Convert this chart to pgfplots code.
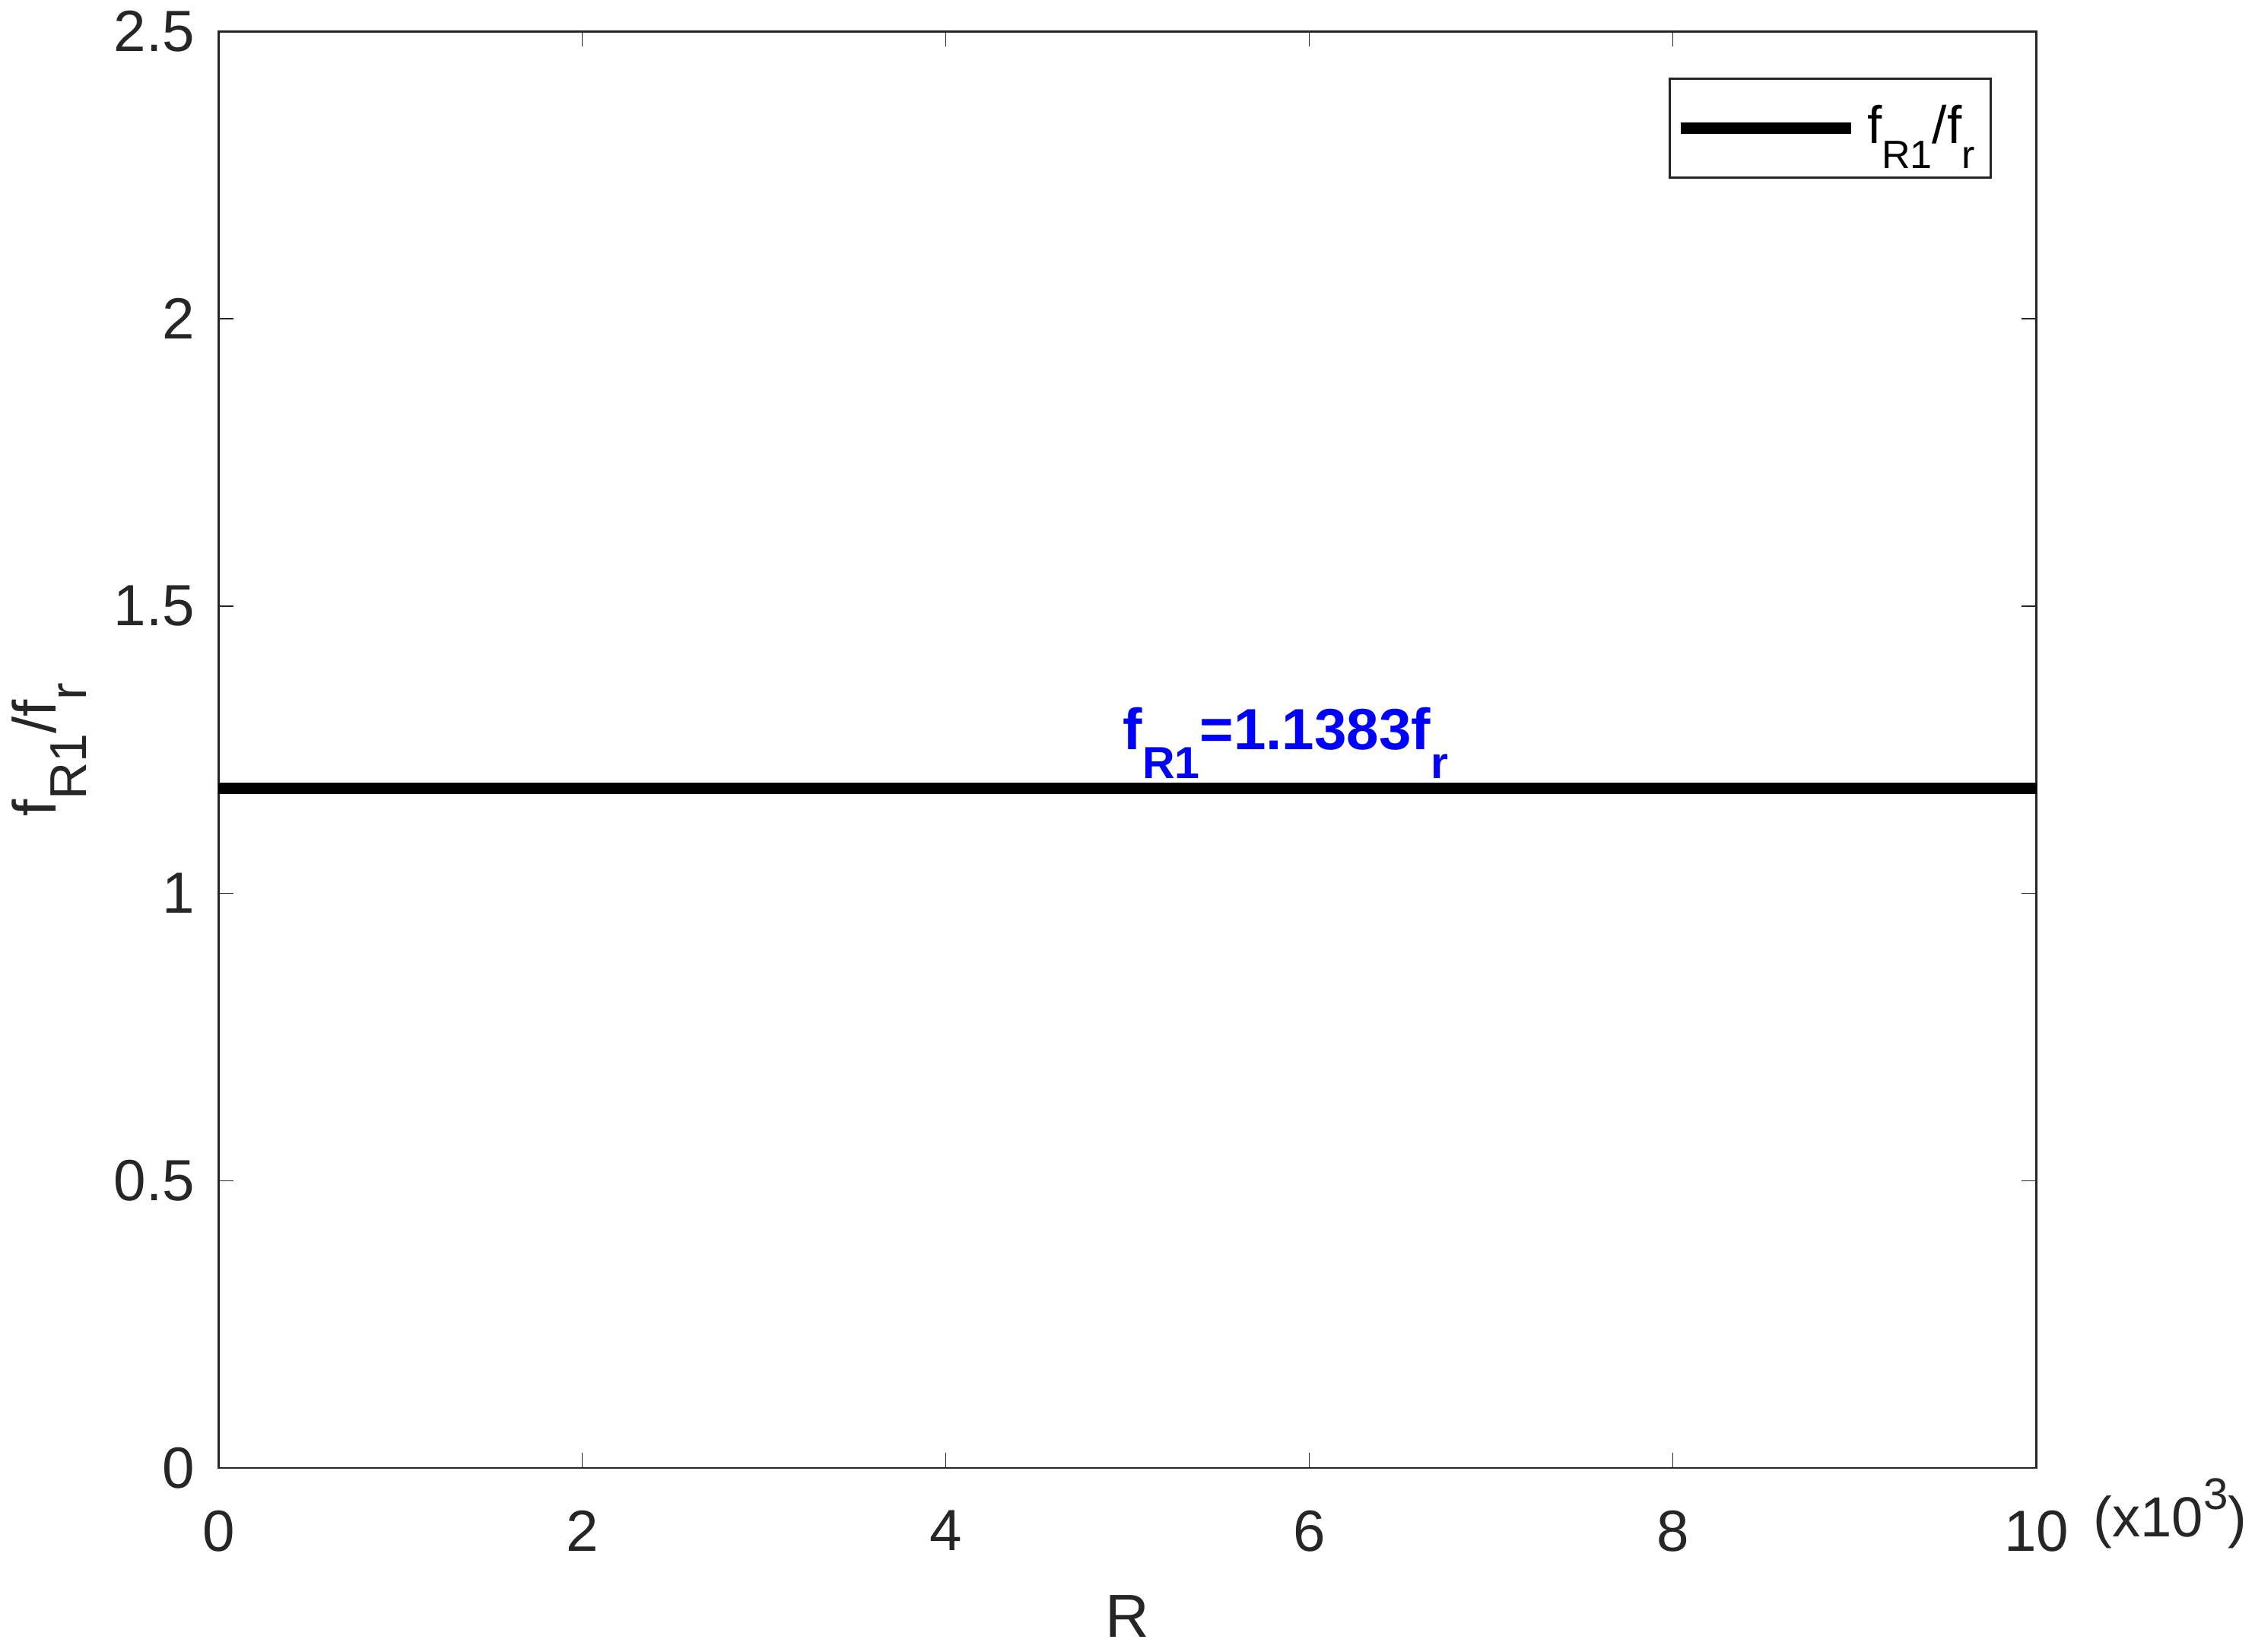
\documentclass[border=0pt]{standalone}
\usepackage{fontspec}
\setmainfont{Liberation Sans}
\usepackage{pgfplots}
\pgfplotsset{compat=1.18}
% MATLAB-style subscript / superscript: size, shift, text
\newcommand\msub[3]{\raisebox{-#2}{\fontsize{#1}{#1}\selectfont #3}}
\newcommand\msup[3]{\raisebox{#2}{\fontsize{#1}{#1}\selectfont #3}}
\begin{document}
\begin{tikzpicture}
\begin{axis}[
    width=12.1cm, height=9.56cm,
    scale only axis,
    xmin=0, xmax=10000,
    ymin=0, ymax=2.5,
    xtick={0,2000,4000,6000,8000,10000},
    xticklabels={0,2,4,6,8,10},
    ytick={0,0.5,1,1.5,2,2.5},
    yticklabels={0,0.5,1,1.5,2,2.5},
    scaled x ticks=false,
    tick align=inside,
    major tick length=0.1cm,
    axis line style={black!85},
    tick style={black!85},
    ticklabel style={font=\fontsize{11}{13}\selectfont, text=black!85, inner sep=0pt},
    xticklabel style={yshift=-0.278cm},
    yticklabel style={xshift=-0.153cm},
    xlabel={R},
    ylabel={f\msub{9.8pt}{5.8pt}{R1}/f\msub{9.8pt}{5.8pt}{r}},
    xlabel style={font=\fontsize{11.5}{13}\selectfont, text=black!85, inner sep=0pt, at={(rel axis cs:0.5,0)}, anchor=north, yshift=-0.84cm},
    ylabel style={font=\fontsize{11.5}{13}\selectfont, text=black!85, inner sep=0pt, at={([xshift=-0.871cm]rel axis cs:0,0.5)}, anchor=south},
    legend style={draw=black!85, font=\fontsize{10}{12}\selectfont, at={(0.9755,0.968)}, anchor=north east, inner xsep=1pt, inner ysep=3pt},
    legend cell align=left,
    legend image code/.code={\draw[#1] (0cm,0cm) -- (1.13cm,0cm);},
    clip=false,
]
\addplot[black, line width=2.2pt] coordinates {(0,1.183) (10000,1.183)};
\addlegendentry{f\msub{7.5pt}{4.8pt}{R1}/f\msub{7.5pt}{4.8pt}{r}}
\node[anchor=south, inner sep=0pt, yshift=1.6pt, text=blue, font=\bfseries\fontsize{11}{13}\selectfont] at (axis cs:5870,1.183) {f\msub{8.5pt}{5.5pt}{R1}=1.1383f\msub{8.5pt}{5.5pt}{r}};
\node[anchor=base west, inner sep=0pt, xshift=0.373cm, yshift=-0.46cm, text=black!85, font=\fontsize{10.7}{13}\selectfont] at (rel axis cs:1,0) {(x10\msup{8.4pt}{5.3pt}{3})};
\end{axis}
\pgfresetboundingbox
\path[use as bounding box] ([shift={(-1.455cm,-1.225cm)}]current axis.south west) rectangle ([shift={(1.455cm,0.21cm)}]current axis.north east);
\end{tikzpicture}
\end{document}
